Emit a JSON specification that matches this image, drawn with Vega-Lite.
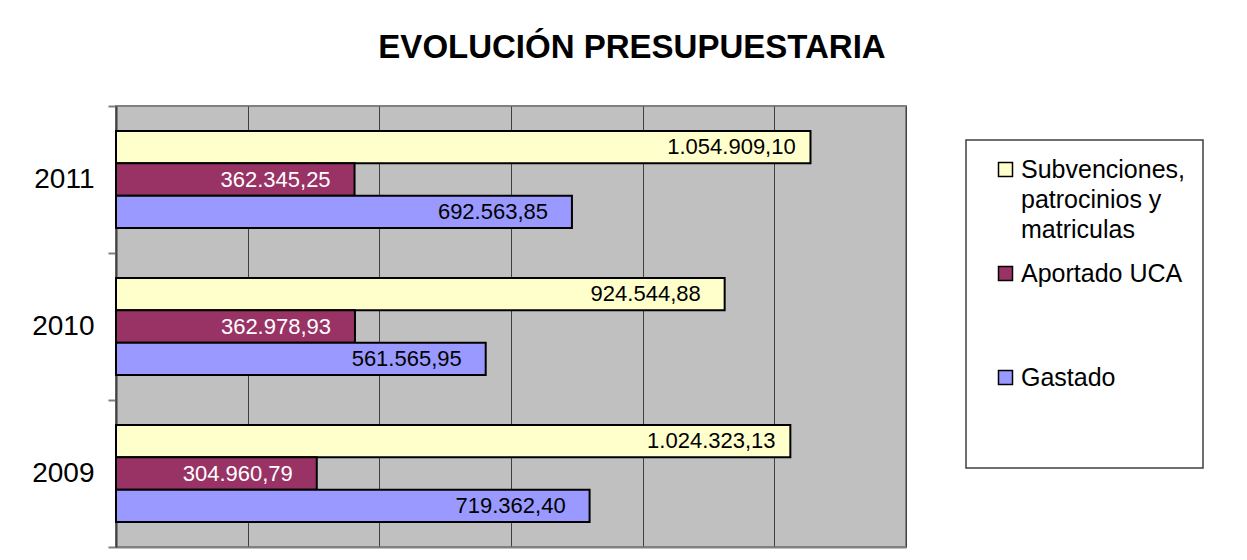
{
  "$schema": "https://vega.github.io/schema/vega-lite/v6.json",
  "width": 790,
  "height": 441,
  "autosize": {"type": "none"},
  "padding": {"left": 116, "top": 106, "right": 341, "bottom": 13},
  "background": "white",
  "title": {
    "text": "EVOLUCIÓN PRESUPUESTARIA",
    "fontSize": 33,
    "font": "Liberation Sans",
    "fontWeight": "bold",
    "color": "black",
    "anchor": "middle",
    "dx": 121,
    "offset": 27
  },
  "config": {
    "locale": {"number": {"decimal": ",", "thousands": ".", "grouping": [3], "currency": ["", " €"]}},
    "view": {"fill": "#C0C0C0", "stroke": "#808080", "strokeWidth": 2},
    "font": "Liberation Sans"
  },
  "data": {
    "values": [
      {"year": "2011", "series": "Subvenciones, patrocinios y matriculas", "value": 1054909.10},
      {"year": "2011", "series": "Aportado UCA", "value": 362345.25},
      {"year": "2011", "series": "Gastado", "value": 692563.85},
      {"year": "2010", "series": "Subvenciones, patrocinios y matriculas", "value": 924544.88},
      {"year": "2010", "series": "Aportado UCA", "value": 362978.93},
      {"year": "2010", "series": "Gastado", "value": 561565.95},
      {"year": "2009", "series": "Subvenciones, patrocinios y matriculas", "value": 1024323.13},
      {"year": "2009", "series": "Aportado UCA", "value": 304960.79},
      {"year": "2009", "series": "Gastado", "value": 719362.40}
    ]
  },
  "encoding": {
    "y": {
      "field": "year",
      "type": "nominal",
      "sort": "descending",
      "scale": {"paddingInner": 0, "paddingOuter": 0},
      "axis": {
        "title": null,
        "tickBand": "extent",
        "labelFontSize": 28,
        "labelColor": "black",
        "labelFont": "Liberation Sans",
        "labelPadding": 14,
        "tickSize": 8,
        "tickColor": "#808080",
        "tickWidth": 2,
        "domainColor": "#404040",
        "domainWidth": 2,
        "grid": false
      }
    },
    "yOffset": {
      "field": "series",
      "type": "nominal",
      "sort": ["Subvenciones, patrocinios y matriculas", "Aportado UCA", "Gastado"],
      "scale": {"paddingInner": 0, "paddingOuter": 0.77}
    },
    "x": {
      "field": "value",
      "type": "quantitative",
      "scale": {"domain": [0, 1200000], "nice": false},
      "axis": {
        "title": null,
        "values": [0, 200000, 400000, 600000, 800000, 1000000, 1200000],
        "labels": false,
        "ticks": false,
        "grid": true,
        "gridColor": "#404040",
        "gridWidth": 1,
        "gridOpacity": 1,
        "domainColor": "#808080",
        "domainWidth": 2
      }
    }
  },
  "layer": [
    {
      "mark": {"type": "bar", "stroke": "black", "strokeWidth": 2},
      "encoding": {
        "color": {
          "field": "series",
          "type": "nominal",
          "scale": {
            "domain": ["Subvenciones, patrocinios y matriculas", "Aportado UCA", "Gastado"],
            "range": ["#FFFFCC", "#993366", "#9999FF"]
          },
          "legend": {
            "title": null,
            "orient": "none",
            "legendX": 850,
            "legendY": 34,
            "direction": "vertical",
            "symbolType": "square",
            "symbolSize": 196,
            "symbolStrokeColor": "black",
            "symbolStrokeWidth": 1.5,
            "symbolOpacity": 1,
            "symbolOffset": 10,
            "labelFontSize": 25,
            "labelFont": "Liberation Sans",
            "labelColor": "black",
            "labelOffset": 3,
            "labelLimit": 300,
            "labelExpr": "datum.label == 'Subvenciones, patrocinios y matriculas' ? ['Subvenciones,', 'patrocinios y', 'matriculas'] : datum.label == 'Gastado' ? ['Gastado', ' ', ' '] : datum.label",
            "gridAlign": "all",
            "rowPadding": 18,
            "padding": 17,
            "strokeColor": "#404040",
            "fillColor": "white",
            "encode": {
              "labels": {
                "update": {
                  "lineHeight": {"value": 30}
                }
              },
              "legend": {"update": {"strokeWidth": {"value": 1.5}}}
            }
          }
        }
      }
    },
    {
      "mark": {"type": "text", "align": "center", "baseline": "middle", "dx": -79, "fontSize": 22, "font": "Liberation Sans"},
      "encoding": {
        "text": {"field": "value", "type": "quantitative", "format": ",.2f"},
        "color": {
          "condition": {"test": "datum.series === 'Aportado UCA'", "value": "white"},
          "value": "black"
        }
      }
    }
  ]
}
